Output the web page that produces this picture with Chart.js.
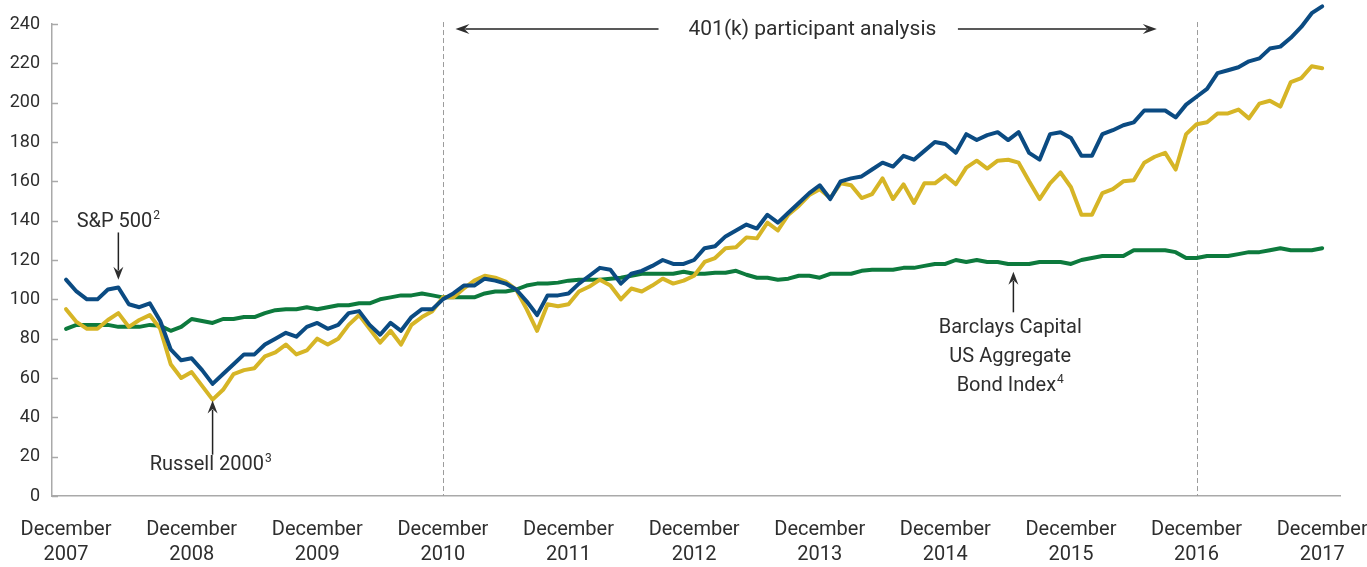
<!DOCTYPE html>
<html>
<head>
    <meta charset="utf-8">
    <script src="https://cdn.jsdelivr.net/npm/chart.js"></script>
    <title>401(k) participant analysis</title>
    <style>
        html, body { margin: 0; padding: 0; background: #fff; }
        .chart-box { width: 1367px; height: 567px; }
    </style>
</head>
<body>

    <div class="chart-box"><canvas id="chart"></canvas></div>

    <script type="text/javascript">
        // monthly index values, December 2007 = month 0 ... December 2017 = month 120
        const sp500 = [
            110, 104, 100, 100, 105, 106, 97.5, 96, 98, 89, 74.5, 69, 70,
            64, 57, 62, 67, 72, 72, 77, 80, 83, 81, 86, 88,
            85, 87, 93, 94, 87, 82, 88, 84, 91, 95, 95, 100,
            103, 107, 107, 110.5, 109.5, 108, 105, 99, 92, 102, 102, 103,
            108, 112, 116, 115, 108, 113, 114.5, 117, 120, 118, 118, 120,
            126, 127, 132, 135, 138, 136, 143, 139, 144, 149, 154, 158,
            151, 160, 161.5, 162.5, 166, 169.5, 167.5, 173, 171, 175.5, 180, 179,
            174.5, 184, 181, 183.5, 185, 181, 185, 174.5, 171, 184, 185, 182,
            173, 173, 184, 186, 188.5, 190, 196, 196, 196, 192.5, 199, 203,
            207, 215, 216.5, 218, 221, 222.5, 227.5, 228.5, 233, 238.5, 245.5, 249
        ];
        const russell2000 = [
            95, 88.5, 85, 85, 89.5, 93, 86, 89.5, 92, 85, 67, 60, 63,
            56, 49, 54, 62, 64, 65, 71, 73, 77, 72, 74, 80,
            77, 80, 87, 92, 85, 78, 84, 77, 87, 91, 94, 101,
            101, 105.5, 109.5, 112, 111, 109, 105, 95, 84, 97.5, 96.5, 97.5,
            104, 106.5, 110, 107, 100, 105.5, 104, 107, 110.5, 108, 109.5, 112,
            119, 121, 126, 126.5, 131.5, 131, 139, 135, 143, 147.5, 153, 156,
            151.5, 159, 158, 151.5, 153.5, 161.5, 151, 158.5, 149, 159, 159, 163,
            158.5, 167, 170.5, 166.5, 170.5, 171, 169.5, 160, 151, 159, 164.5, 157,
            143, 143, 154, 156, 160, 160.5, 169.5, 172.5, 174.5, 166, 184, 189,
            190, 194.5, 194.5, 196.5, 192, 199.5, 201, 198, 210.5, 212.5, 218.5, 217.5
        ];
        const barclaysAgg = [
            85, 87, 87, 87, 87, 86, 86, 86, 87, 86.5, 84, 86, 90,
            89, 88, 90, 90, 91, 91, 93, 94.5, 95, 95, 96, 95,
            96, 97, 97, 98, 98, 100, 101, 102, 102, 103, 102, 101,
            101, 101, 101, 103, 104, 104, 105, 107, 108, 108, 108.5, 109.5,
            110, 110, 110, 110.5, 111, 112, 113, 113, 113, 113, 114, 113,
            113, 113.5, 113.5, 114.5, 112.5, 111, 111, 110, 110.5, 112, 112, 111,
            113, 113, 113, 114.5, 115, 115, 115, 116, 116, 117, 118, 118,
            120, 119, 120, 119, 119, 118, 118, 118, 119, 119, 119, 118,
            120, 121, 122, 122, 122, 125, 125, 125, 125, 124, 121, 121,
            122, 122, 122, 123, 124, 124, 125, 126, 125, 125, 125, 126
        ];

        const tickMonths = [0, 12, 24, 36, 48, 60, 72, 84, 96, 108, 120];
        const tickYears = ['2007', '2008', '2009', '2010', '2011', '2012', '2013', '2014', '2015', '2016', '2017'];
        const yTicks = [0, 20, 40, 60, 80, 100, 120, 140, 160, 180, 200, 220, 240];
        const periodStart = 36;   // December 2010
        const periodEnd = 108;    // December 2016

        const blue = '#0b4b82';
        const gold = '#d6b526';
        const green = '#0d7a3d';
        const axisGray = '#a9a9a9';
        const textColor = '#2e2e2e';
        const fontFamily = 'Roboto, "Liberation Sans", sans-serif';

        const toPoints = arr => arr.map((v, i) => ({ x: i, y: v }));

        function supText(ctx, main, sup, x, y, size, align) {
            ctx.font = `${size}px ${fontFamily}`;
            const w1 = ctx.measureText(main).width;
            const supSize = Math.round(size * 0.6);
            ctx.font = `${supSize}px ${fontFamily}`;
            const w2 = sup ? ctx.measureText(sup).width + 1 : 0;
            const left = align === 'left' ? x : x - (w1 + w2) / 2;
            ctx.textAlign = 'left';
            ctx.textBaseline = 'middle';
            ctx.font = `${size}px ${fontFamily}`;
            ctx.fillText(main, left, y);
            if (sup) {
                ctx.font = `${supSize}px ${fontFamily}`;
                ctx.fillText(sup, left + w1 + 1, y - size * 0.3);
            }
        }

        function arrow(ctx, x1, y1, x2, y2, head, half) {
            const a = Math.atan2(y2 - y1, x2 - x1);
            const c = Math.cos(a), s = Math.sin(a);
            ctx.beginPath();
            ctx.moveTo(x1, y1);
            ctx.lineTo(x2 - c * head * 0.7, y2 - s * head * 0.7);
            ctx.stroke();
            ctx.beginPath();
            ctx.moveTo(x2, y2);
            ctx.lineTo(x2 - c * head + s * half, y2 - s * head - c * half);
            ctx.lineTo(x2 - c * head * 0.65, y2 - s * head * 0.65);
            ctx.lineTo(x2 - c * head - s * half, y2 - s * head + c * half);
            ctx.closePath();
            ctx.fill();
        }

        const notes = {
            id: 'notes',
            beforeDatasetsDraw(chart) {
                const { ctx, chartArea, scales: { x, y } } = chart;
                ctx.save();
                ctx.strokeStyle = axisGray;
                ctx.lineWidth = 1.5;
                yTicks.forEach(v => {
                    const py = Math.round(y.getPixelForValue(v)) + 0.5;
                    ctx.beginPath();
                    ctx.moveTo(chartArea.left, py);
                    ctx.lineTo(chartArea.left + 6, py);
                    ctx.stroke();
                });
                ctx.setLineDash([5, 3]);
                ctx.strokeStyle = '#9c9c9c';
                ctx.lineWidth = 1;
                [periodStart, periodEnd].forEach(m => {
                    const px = Math.round(x.getPixelForValue(m)) + 0.5;
                    ctx.beginPath();
                    ctx.moveTo(px, y.getPixelForValue(241));
                    ctx.lineTo(px, chartArea.bottom);
                    ctx.stroke();
                });
                ctx.restore();
            },
            afterDatasetsDraw(chart) {
                const { ctx, scales: { x, y } } = chart;
                const X = v => x.getPixelForValue(v);
                const Y = v => y.getPixelForValue(v);
                ctx.save();
                ctx.fillStyle = textColor;
                ctx.strokeStyle = '#222';
                ctx.lineWidth = 1.5;

                // top period annotation
                supText(ctx, '401(k) participant analysis', '', X(71.3), Y(237), 21, 'center');
                arrow(ctx, X(56.6), Y(237.5), X(37.2), Y(237.5), 14, 5);
                arrow(ctx, X(85.2), Y(237.5), X(104.2), Y(237.5), 14, 5);

                // S&P 500
                supText(ctx, 'S&P 500', '2', X(5), Y(139.3), 20, 'center');
                arrow(ctx, X(5), Y(134), X(5), Y(110), 13, 5);

                // Russell 2000
                supText(ctx, 'Russell 2000', '3', X(8), Y(15.6), 20, 'left');
                arrow(ctx, X(14), Y(21), X(14), Y(48.5), 13, 5);

                // Barclays
                arrow(ctx, X(90.5), Y(93.4), X(90.5), Y(114), 13, 5);
                supText(ctx, 'Barclays Capital', '', X(90.2), Y(85.3), 20, 'center');
                supText(ctx, 'US Aggregate', '', X(90.2), Y(70.5), 20, 'center');
                supText(ctx, 'Bond Index', '4', X(90.2), Y(55.8), 20, 'center');
                ctx.restore();
            }
        };

        const ctx = document.getElementById('chart').getContext('2d');
        new Chart(ctx, {
            type: 'line',
            data: {
                datasets: [
                    { label: 'S&P 500', data: toPoints(sp500), borderColor: blue, backgroundColor: blue },
                    { label: 'Russell 2000', data: toPoints(russell2000), borderColor: gold, backgroundColor: gold },
                    { label: 'Barclays Capital US Aggregate Bond Index', data: toPoints(barclaysAgg), borderColor: green, backgroundColor: green }
                ].map(d => Object.assign(d, {
                    borderWidth: 4,
                    pointRadius: 0,
                    tension: 0,
                    clip: false,
                    borderJoinStyle: 'round',
                    borderCapStyle: 'round'
                }))
            },
            options: {
                responsive: true,
                maintainAspectRatio: false,
                animation: false,
                layout: { padding: { top: 24, right: 27, left: 0, bottom: 0 } },
                plugins: {
                    legend: { display: false },
                    tooltip: { enabled: false }
                },
                scales: {
                    x: {
                        type: 'linear',
                        min: -1.34,
                        max: 121.7,
                        grid: { display: false, drawTicks: false },
                        border: { display: true, color: axisGray, width: 1.5 },
                        afterBuildTicks: s => { s.ticks = tickMonths.map(v => ({ value: v })); },
                        afterFit: s => { s.height = 71; s.paddingLeft = 0; s.paddingRight = 0; },
                        ticks: {
                            autoSkip: false,
                            maxRotation: 0,
                            padding: 21,
                            color: textColor,
                            font: { family: fontFamily, size: 20, lineHeight: 1.25 },
                            callback: v => {
                                const k = tickMonths.indexOf(v);
                                return k >= 0 ? ['December', tickYears[k]] : '';
                            }
                        }
                    },
                    y: {
                        min: 0,
                        max: 240,
                        grid: { display: false, drawTicks: false },
                        border: { display: true, color: axisGray, width: 1.5 },
                        afterBuildTicks: s => { s.ticks = yTicks.map(v => ({ value: v })); },
                        afterFit: s => { s.width = 52; },
                        ticks: {
                            padding: 12,
                            color: textColor,
                            font: { family: fontFamily, size: 18 }
                        }
                    }
                }
            },
            plugins: [notes]
        });
    </script>

</body>
</html>
